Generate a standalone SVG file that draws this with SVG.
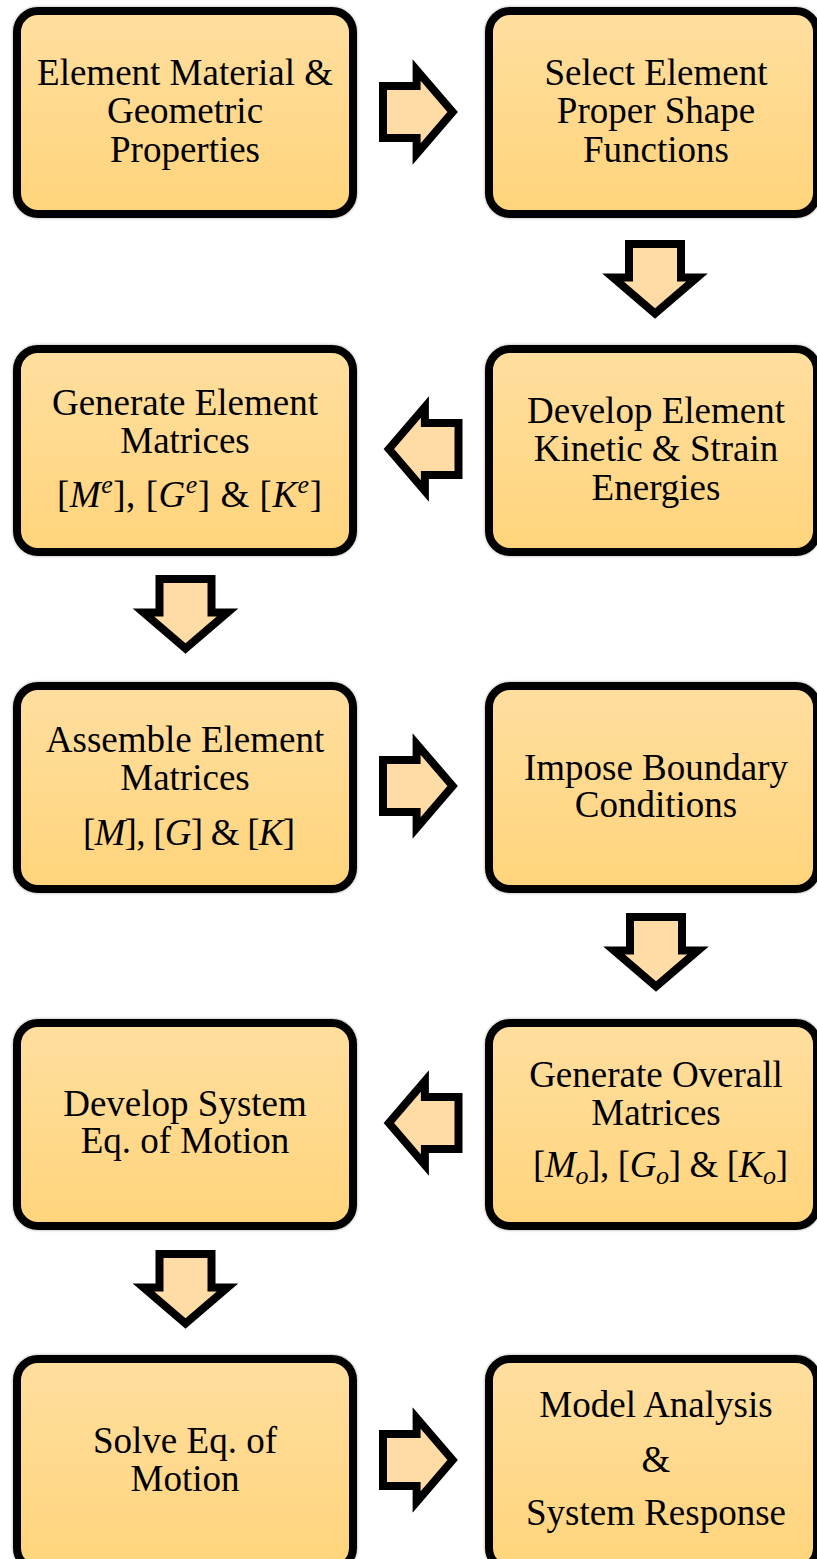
<svg xmlns="http://www.w3.org/2000/svg" width="817" height="1559" viewBox="0 0 817 1559">
<style>
.box{fill:url(#g);stroke:#000;stroke-width:8;filter:url(#sh)}
.t{font-family:"Liberation Serif","Times New Roman",serif;font-size:37px;fill:#000;text-anchor:middle}
.m{font-family:"Liberation Serif","Times New Roman",serif;font-size:37px;fill:#000;text-anchor:middle}
.i{font-style:italic}
.arr{fill:#FFDCA6;stroke:#000;stroke-width:8;stroke-linejoin:miter;stroke-miterlimit:10}
</style>
<defs>
<linearGradient id="g" x1="0" y1="0" x2="0" y2="1">
<stop offset="0" stop-color="#FFDE9F"/>
<stop offset="1" stop-color="#FFD47B"/>
</linearGradient>
<filter id="sh" x="-5%" y="-5%" width="110%" height="110%">
<feDropShadow dx="0" dy="0" stdDeviation="1.5" flood-color="#000" flood-opacity="0.35"/>
</filter>
<path id="a" d="M -36,-26 H -2.4 V -42 L 33.6,0 L -2.4,42 V 26 H -36 Z"/>
</defs>

<g id="connectors">
<use href="#a" class="arr" transform="translate(419,112)"/>
<use href="#a" class="arr" transform="translate(655,280) rotate(90)"/>
<use href="#a" class="arr" transform="translate(422.5,449) rotate(180)"/>
<use href="#a" class="arr" transform="translate(185.5,615) rotate(90)"/>
<use href="#a" class="arr" transform="translate(419,786)"/>
<use href="#a" class="arr" transform="translate(656,953) rotate(90)"/>
<use href="#a" class="arr" transform="translate(422.5,1123) rotate(180)"/>
<use href="#a" class="arr" transform="translate(185.5,1290) rotate(90)"/>
<use href="#a" class="arr" transform="translate(419,1460)"/>
</g>

<g id="n1">
<rect class="box" x="17" y="11" width="336" height="203" rx="21"/>
<text class="t" x="185" y="85">Element Material &amp;</text>
<text class="t" x="185" y="123">Geometric</text>
<text class="t" x="185" y="162">Properties</text>
</g>
<g id="n2">
<rect class="box" x="489" y="11" width="328" height="203" rx="21"/>
<text class="t" x="656" y="85">Select Element</text>
<text class="t" x="656" y="123">Proper Shape</text>
<text class="t" x="656" y="162">Functions</text>
</g>
<g id="n3">
<rect class="box" x="489" y="349" width="328" height="203" rx="21"/>
<text class="t" x="656" y="423">Develop Element</text>
<text class="t" x="656" y="461">Kinetic &amp; Strain</text>
<text class="t" x="656" y="500">Energies</text>
</g>
<g id="n4">
<rect class="box" x="17" y="349" width="336" height="203" rx="21"/>
<text class="t" x="185" y="415">Generate Element</text>
<text class="t" x="185" y="453">Matrices</text>
<text class="m" x="189.5" y="507" textLength="265" lengthAdjust="spacing">[<tspan class="i">M</tspan><tspan class="i" font-size="26" dy="-14">e</tspan><tspan dy="14">], [</tspan><tspan class="i">G</tspan><tspan class="i" font-size="26" dy="-14">e</tspan><tspan dy="14">] &amp; [</tspan><tspan class="i">K</tspan><tspan class="i" font-size="26" dy="-14">e</tspan><tspan dy="14">]</tspan></text>
</g>
<g id="n5">
<rect class="box" x="17" y="686" width="336" height="203" rx="21"/>
<text class="t" x="185" y="752">Assemble Element</text>
<text class="t" x="185" y="790">Matrices</text>
<text class="m" x="189" y="845" textLength="212" lengthAdjust="spacing">[<tspan class="i">M</tspan>], [<tspan class="i">G</tspan>] &amp; [<tspan class="i">K</tspan>]</text>
</g>
<g id="n6">
<rect class="box" x="489" y="686" width="328" height="203" rx="21"/>
<text class="t" x="656" y="780">Impose Boundary</text>
<text class="t" x="656" y="817">Conditions</text>
</g>
<g id="n7">
<rect class="box" x="489" y="1023" width="328" height="203" rx="21"/>
<text class="t" x="656" y="1087">Generate Overall</text>
<text class="t" x="656" y="1125">Matrices</text>
<text class="m" x="660.5" y="1177" textLength="255" lengthAdjust="spacing">[<tspan class="i">M</tspan><tspan class="i" font-size="26" dy="7">o</tspan><tspan dy="-7">], [</tspan><tspan class="i">G</tspan><tspan class="i" font-size="26" dy="7">o</tspan><tspan dy="-7">] &amp; [</tspan><tspan class="i">K</tspan><tspan class="i" font-size="26" dy="7">o</tspan><tspan dy="-7">]</tspan></text>
</g>
<g id="n8">
<rect class="box" x="17" y="1023" width="336" height="203" rx="21"/>
<text class="t" x="185" y="1116">Develop System</text>
<text class="t" x="185" y="1153">Eq. of Motion</text>
</g>
<g id="n9">
<rect class="box" x="17" y="1359" width="336" height="210" rx="21"/>
<text class="t" x="185" y="1453">Solve Eq. of</text>
<text class="t" x="185" y="1491">Motion</text>
</g>
<g id="n10">
<rect class="box" x="489" y="1359" width="328" height="210" rx="21"/>
<text class="t" x="656" y="1417">Model Analysis</text>
<text class="t" x="656" y="1472">&amp;</text>
<text class="t" x="656" y="1525">System Response</text>
</g>
</svg>
